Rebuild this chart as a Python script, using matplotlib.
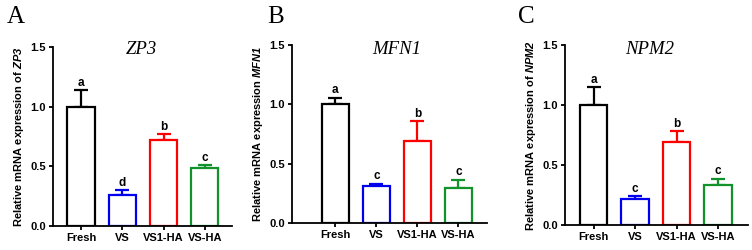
import numpy as np
import matplotlib.pyplot as plt

plt.rcParams["font.family"] = ["Liberation Sans", "DejaVu Sans"]
plt.rcParams["mathtext.fontset"] = "custom"
plt.rcParams["mathtext.bfit"] = "Liberation Sans:bold:italic"
plt.rcParams["mathtext.it"] = "Liberation Serif:italic"
plt.rcParams["mathtext.rm"] = "Liberation Serif"

groups = ["Fresh", "VS", "VS1-HA", "VS-HA"]
colors = ["black", "#0000ee", "#ff0000", "#12922a"]

genes = ["ZP3", "MFN1", "NPM2"]
panel_letters = ["A", "B", "C"]
ylabels = [
    r"Relative mRNA expression of $\mathbfit{ZP3}$",
    r"Relative mRNA expression $\mathbfit{MFN1}$",
    r"Relative mRNA expression of $\mathbfit{NPM2}$",
]

zp3_mean = [1.00, 0.26, 0.72, 0.49]
zp3_err = [0.14, 0.04, 0.05, 0.02]
zp3_sig = ["a", "d", "b", "c"]

mfn1_mean = [1.00, 0.31, 0.69, 0.295]
mfn1_err = [0.055, 0.02, 0.17, 0.07]
mfn1_sig = ["a", "c", "b", "c"]

npm2_mean = [1.00, 0.215, 0.69, 0.335]
npm2_err = [0.15, 0.025, 0.09, 0.05]
npm2_sig = ["a", "c", "b", "c"]

means = [zp3_mean, mfn1_mean, npm2_mean]
errs = [zp3_err, mfn1_err, npm2_err]
sigs = [zp3_sig, mfn1_sig, npm2_sig]

# axes boxes in figure fraction (left, bottom, width, height)
boxes = [
    (0.0705, 0.096, 0.238, 0.716),
    (0.3883, 0.108, 0.2593, 0.712),
    (0.7513, 0.100, 0.2434, 0.720),
]
xlims = [(-0.68, 3.66), (-1.06, 3.70), (-0.69, 3.72)]
letter_x = [0.021, 0.367, 0.700]
title_x = [141, 397, 650]

fig = plt.figure(figsize=(7.52, 2.5), dpi=100)
x = np.arange(len(groups))

for i in range(3):
    ax = fig.add_axes(boxes[i])
    m = means[i]
    e = errs[i]
    for j in range(len(groups)):
        ax.bar(x[j], m[j], width=0.66, facecolor="white", edgecolor=colors[j],
               linewidth=1.6, zorder=2)
        ax.errorbar(x[j], m[j], yerr=[[0], [e[j]]], fmt="none", ecolor=colors[j],
                    elinewidth=1.6, capsize=5.2, capthick=1.6, zorder=1)
        ax.text(x[j], m[j] + e[j] + 0.012, sigs[i][j], ha="center", va="bottom",
                fontsize=8.5, fontweight="bold")
    ax.set_xlim(*xlims[i])
    ax.set_ylim(0, 1.5)
    ax.set_yticks([0.0, 0.5, 1.0, 1.5])
    ax.set_yticklabels(["0.0", "0.5", "1.0", "1.5"])
    ax.set_xticks(x)
    ax.set_xticklabels(groups)
    for lab in ax.get_xticklabels() + ax.get_yticklabels():
        lab.set_fontweight("bold")
        lab.set_fontsize(8)
    ax.spines["top"].set_visible(False)
    ax.spines["right"].set_visible(False)
    ax.spines["left"].set_linewidth(1.3)
    ax.spines["bottom"].set_linewidth(1.3)
    ax.tick_params(width=1.3, length=3, pad=2)
    ax.set_ylabel(ylabels[i], fontsize=8, fontweight="bold", labelpad=3)
    fig.text(title_x[i] / 752, 1 - 49 / 250, genes[i], ha="center", va="center",
             fontsize=13.5, fontstyle="italic", family="Liberation Serif")
    fig.text(letter_x[i], 1 - 17 / 250, panel_letters[i], ha="center", va="center",
             fontsize=18, family="Liberation Serif")

fig.savefig("out.png", dpi=100)
